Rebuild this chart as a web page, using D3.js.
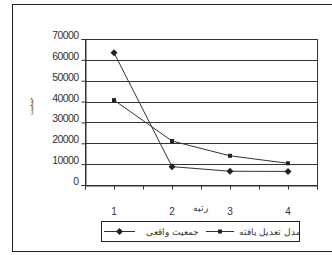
<!DOCTYPE html>
<html><head><meta charset="utf-8">
<script src="https://cdn.jsdelivr.net/npm/d3@7"></script>
<style>
html,body{margin:0;padding:0;background:#fff;}
svg{display:block;font-family:"Liberation Sans",Arial,sans-serif;}
</style></head>
<body>
<svg id="c" width="332" height="255"></svg>
<script>
const ranks = [1, 2, 3, 4];
const actualPopulation = [63400, 8800, 6600, 6500];   // جمعیت واقعی
const adjustedModel = [40700, 21100, 14000, 10400];    // مدل تعدیل یافته
const yTicks = [0, 10000, 20000, 30000, 40000, 50000, 60000, 70000];
const seriesNames = ["جمعیت واقعی", "مدل تعدیل یافته"];
const xTitle = "رتبه";
const yTitle = "جمعیت";

const svg = d3.select("#c");
const L = 85, R = 317, T = 39, B = 185;
const x = d3.scaleLinear().domain([0.5, 4.5]).range([L, R]);
const y = d3.scaleLinear().domain([0, 70000]).range([B, T]);

// outer frame
svg.append("rect").attr("x", 12.5).attr("y", 4.5).attr("width", 340).attr("height", 247)
  .attr("fill", "#fff").attr("stroke", "#222").attr("stroke-width", 1);

// plot area
svg.append("rect").attr("x", L + 0.5).attr("y", T + 0.5).attr("width", R - L).attr("height", B - T)
  .attr("fill", "#fff").attr("stroke", "#333");

// gridlines
svg.append("g").selectAll("line").data(yTicks).join("line")
  .attr("x1", L).attr("x2", R)
  .attr("y1", d => Math.round(y(d)) + 0.5).attr("y2", d => Math.round(y(d)) + 0.5)
  .attr("stroke", "#333").attr("stroke-width", 1);

// y axis
const ya = svg.append("g").attr("transform", `translate(${L + 0.5},0)`)
  .call(d3.axisLeft(y).tickValues(yTicks).tickSize(4).tickPadding(3).tickFormat(d3.format("d")));
ya.select(".domain").attr("stroke", "#333");
ya.selectAll(".tick line").attr("stroke", "#333");
ya.selectAll("text").attr("font-size", 10.5).attr("fill", "#333").attr("dy", "-0.05em")
  .style("letter-spacing", "-0.6px");

// x axis (ticks only, every half unit)
const xa = svg.append("g").attr("transform", `translate(0,${B + 0.5})`)
  .call(d3.axisBottom(x).tickValues(d3.range(0.5, 4.51, 0.5)).tickSize(4).tickFormat(""));
xa.select(".domain").attr("stroke", "#333");
xa.selectAll(".tick line").attr("stroke", "#333");

// x labels placed lower
svg.append("g").selectAll("text").data(ranks).join("text")
  .attr("x", d => x(d)).attr("y", 215).attr("text-anchor", "middle")
  .attr("font-size", 10).attr("fill", "#333").text(d => d);

svg.append("text").attr("x", 200).attr("y", 211).attr("text-anchor", "middle")
  .attr("font-size", 9).attr("fill", "#333").text(xTitle);

svg.append("text").attr("transform", "translate(33,106) rotate(-90)").attr("text-anchor", "middle")
  .attr("font-size", 6).attr("fill", "#444").text(yTitle);

const line = d3.line().x((d, i) => x(ranks[i])).y(d => y(d));

// series lines
svg.append("path").datum(adjustedModel).attr("d", line).attr("fill", "none")
  .attr("stroke", "#333").attr("stroke-width", 1);
svg.append("path").datum(actualPopulation).attr("d", line).attr("fill", "none")
  .attr("stroke", "#333").attr("stroke-width", 1);

const diamondPath = "M0,-3.5L3.5,0L0,3.5L-3.5,0Z";
svg.append("g").selectAll("path").data(actualPopulation).join("path")
  .attr("transform", (d, i) => `translate(${x(ranks[i])},${y(d)})`)
  .attr("d", diamondPath).attr("fill", "#222");
svg.append("g").selectAll("rect").data(adjustedModel).join("rect")
  .attr("x", (d, i) => x(ranks[i]) - 2).attr("y", d => y(d) - 2)
  .attr("width", 4).attr("height", 4).attr("fill", "#222");

// legend
const lg = svg.append("g");
lg.append("rect").attr("x", 101.5).attr("y", 221.5).attr("width", 198).attr("height", 20)
  .attr("fill", "#fff").attr("stroke", "#222");
svg.append("clipPath").attr("id", "lc").append("rect")
  .attr("x", 102).attr("y", 222).attr("width", 197).attr("height", 19);
const items = [
  {name: seriesNames[0], x0: 104, x1: 135, tx: 199, sym: "d"},
  {name: seriesNames[1], x0: 206, x1: 234, tx: 301, sym: "s"}
];
items.forEach(it => {
  lg.append("line").attr("x1", it.x0).attr("x2", it.x1).attr("y1", 231.5).attr("y2", 231.5)
    .attr("stroke", "#333");
  const cx = (it.x0 + it.x1) / 2;
  if (it.sym === "d") lg.append("path").attr("transform", `translate(${cx},231.5)`).attr("d", diamondPath).attr("fill", "#222");
  else lg.append("rect").attr("x", cx - 2).attr("y", 229.5).attr("width", 4).attr("height", 4).attr("fill", "#222");
  lg.append("text").attr("x", it.tx).attr("y", 235).attr("text-anchor", "end")
    .attr("clip-path", "url(#lc)")
    .attr("font-size", 9).attr("fill", "#333").text(it.name);
});
</script>
</body></html>
